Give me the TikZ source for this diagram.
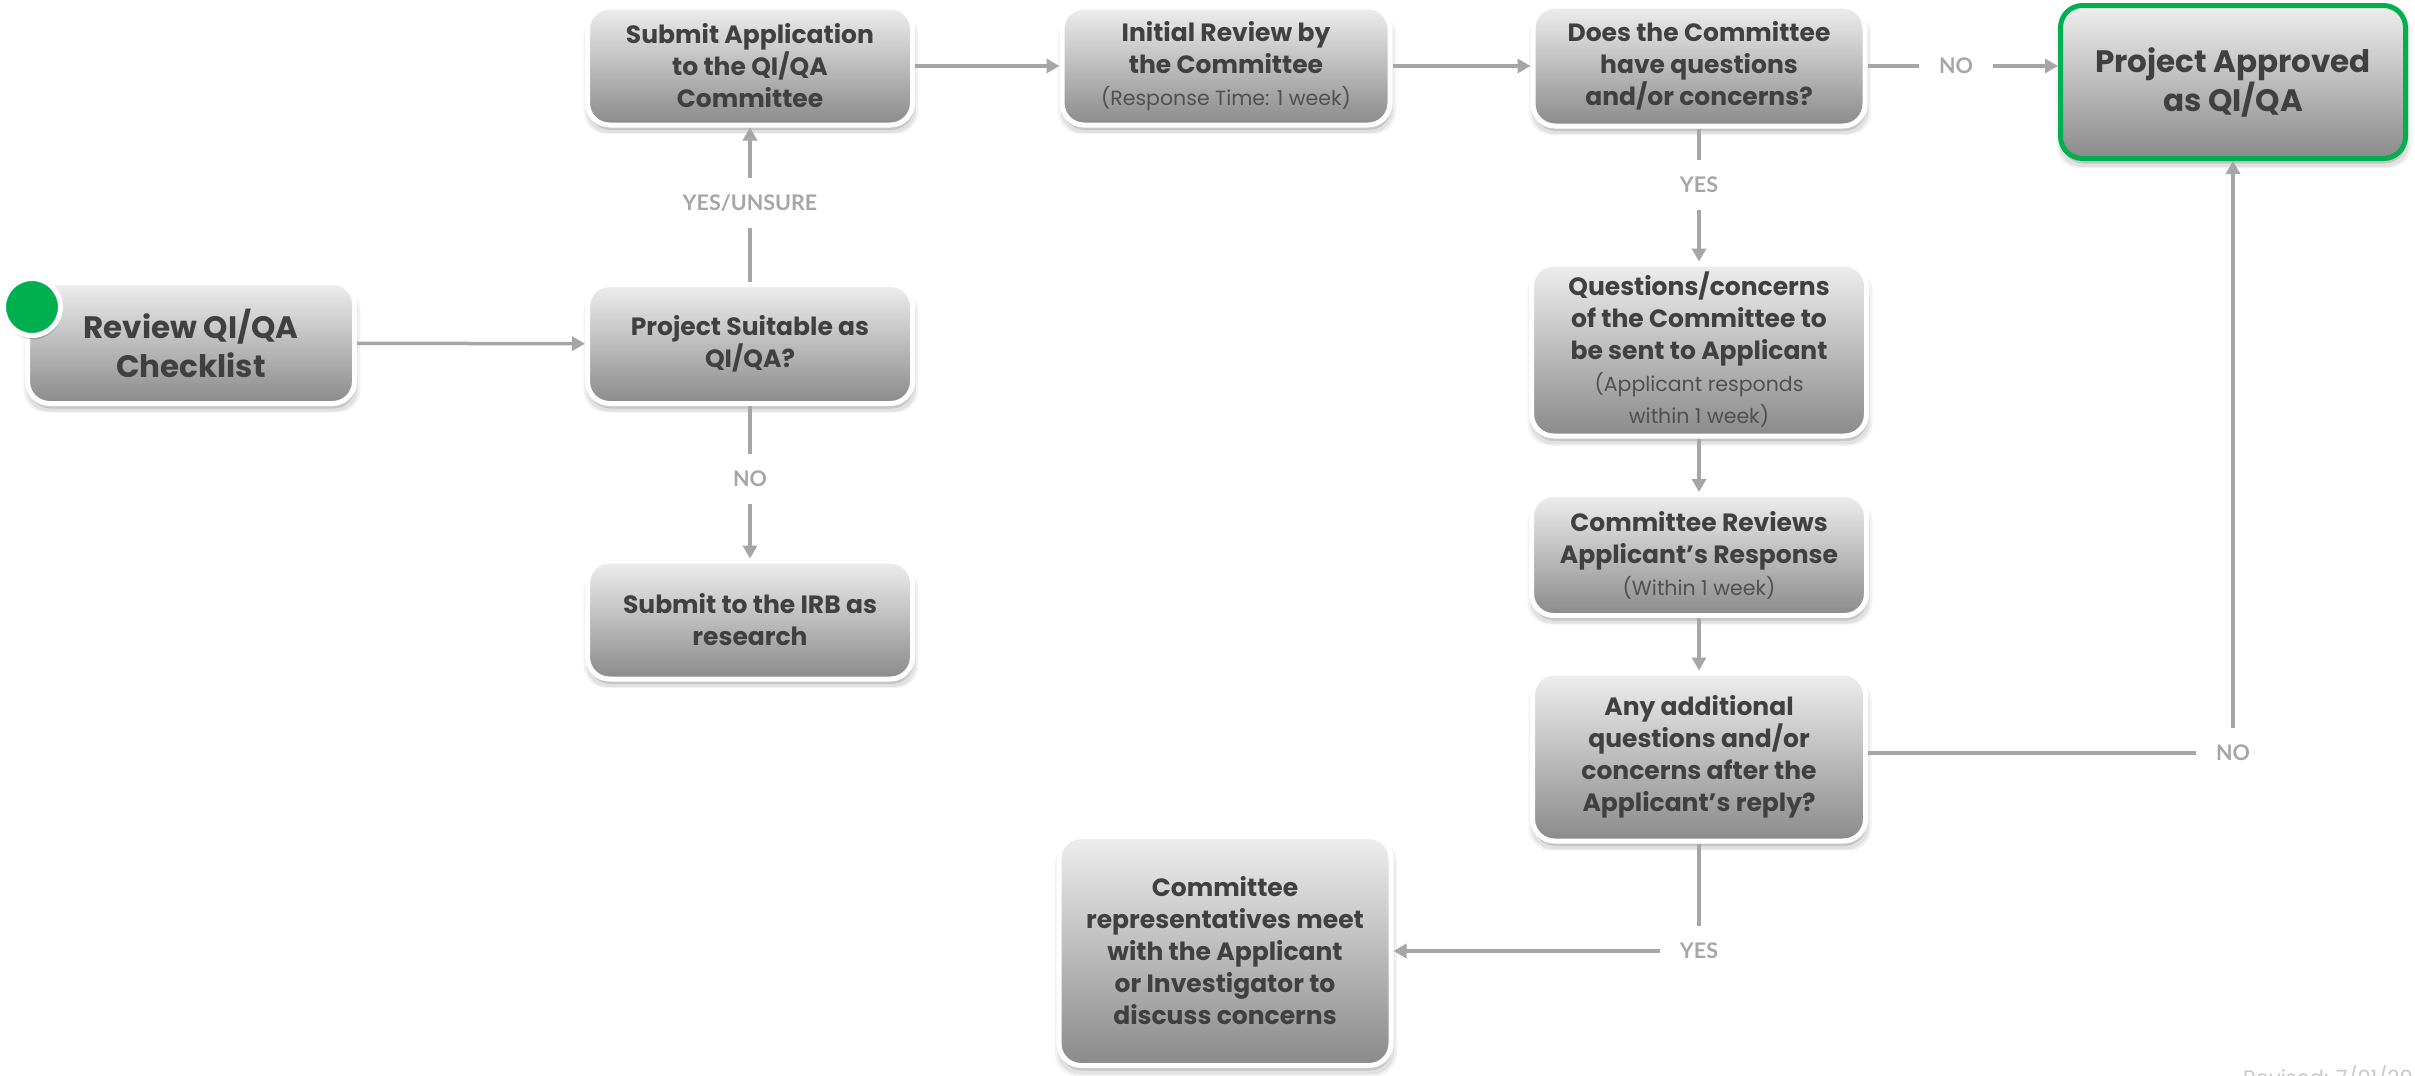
\documentclass[tikz,border=0pt]{standalone}
\usepackage{fontspec}
\setmainfont{Poppins}
\newfontfamily\lblfont{Lato}
\usetikzlibrary{arrows.meta,shadows}
\definecolor{boxtop}{RGB}{238,238,238}
\definecolor{boxbot}{RGB}{138,138,138}
\definecolor{txtc}{RGB}{64,64,64}
\definecolor{smallc}{RGB}{80,80,80}
\definecolor{lblc}{RGB}{166,166,166}
\definecolor{lnc}{RGB}{166,166,166}
\definecolor{grn}{RGB}{0,176,80}
\definecolor{revc}{RGB}{200,200,200}
\newcommand{\bx}{\fontsize{25}{32}\selectfont\bfseries}
\newcommand{\bigbx}{\fontsize{31}{39}\selectfont\bfseries}
\newcommand{\smt}{\fontsize{20.5}{23}\selectfont\mdseries\color{smallc}}
\begin{document}
\begin{tikzpicture}[x=1pt,y=-1pt,
  softshadow/.style={
    drop shadow={shadow xshift=1pt, shadow yshift=-7pt, fill=black, opacity=0.05, shadow scale=1.03},
    drop shadow={shadow xshift=1pt, shadow yshift=-7pt, fill=black, opacity=0.07, shadow scale=1.015},
    drop shadow={shadow xshift=1pt, shadow yshift=-5pt, fill=black, opacity=0.12}},
  box/.style={rounded corners=22pt, draw=white, line width=5pt,
    top color=boxtop, bottom color=boxbot, text=txtc, align=center,
    font=\bx, inner sep=4pt, softshadow},
  sz/.style 2 args={minimum width=#1pt, minimum height=#2pt},
  lbl/.style={font=\lblfont\bfseries\fontsize{21.5}{24}\selectfont, text=lblc,
    inner xsep=20pt, inner ysep=0pt, minimum height=50pt},
  conn/.style={draw=lnc, line width=3.5pt},
  arr/.style={conn, -{Triangle[length=13pt,width=14pt]}}
]
\useasboundingbox (0,0) rectangle (2415,1076);

% boxes
\node[box, sz={327}{121}, font=\bigbx] (review) at (191,343) {Review QI/QA\\Checklist};
\node[box, sz={325}{119}] (suitable) at (750,344) {Project Suitable as\\QI/QA?};
\node[box, sz={325}{118}] (submit) at (750,66) {Submit Application\\to the QI/QA\\Committee};
\node[box, sz={325}{118}] (irb) at (750,620) {Submit to the IRB as\\research};
\node[box, sz={328}{118}] (initial) at (1226,66) {Initial Review by\\the Committee\\\smt (Response Time: 1 week)};
\node[box, sz={332}{120}] (does) at (1699,66) {Does the Committee\\have questions\\and/or concerns?};
\node[box, sz={345}{153}, draw=grn, font=\bigbx] (approved) at (2233,82) {Project Approved\\as QI/QA};
\node[box, sz={335}{172}] (questions) at (1699,350) {Questions/concerns\\of the Committee to\\be sent to Applicant\\\smt (Applicant responds\\\smt within 1 week)};
\node[box, sz={335}{121}] (reviews) at (1699,555) {Committee Reviews\\Applicant’s Response\\\smt (Within 1 week)};
\node[box, sz={333}{168}] (any) at (1699,757) {Any additional\\questions and/or\\concerns after the\\Applicant’s reply?};
\node[box, sz={332}{229}] (reps) at (1225,951) {Committee\\representatives meet\\with the Applicant\\or Investigator to\\discuss concerns};

% start dot
\node[circle, fill=grn, draw=white, line width=5pt, minimum size=57pt, inner sep=0pt,
  drop shadow={shadow xshift=1pt, shadow yshift=-4pt, fill=black, opacity=0.15}] (dot) at (32,307) {};

% labels
\node[lbl] (lyesun) at (750,203) {YES/UNSURE};
\node[lbl] (lno1) at (750,479) {NO};
\node[lbl] (lno2) at (1956,66) {NO};
\node[lbl] (lyes1) at (1699,185) {YES};
\node[lbl] (lno3) at (2233,753) {NO};
\node[lbl] (lyes2) at (1699,951) {YES};

% connectors
\draw[arr] (review) -- (suitable);
\draw[conn] (suitable) -- (lyesun);
\draw[arr] (lyesun) -- (submit);
\draw[conn] (suitable) -- (lno1);
\draw[arr] (lno1) -- (irb);
\draw[arr] (submit) -- (initial);
\draw[arr] (initial) -- (does);
\draw[conn] (does) -- (lno2);
\draw[arr] (lno2) -- (approved.west |- lno2);
\draw[conn] (does) -- (lyes1);
\draw[arr] (lyes1) -- (questions);
\draw[arr] (questions) -- (reviews);
\draw[arr] (reviews) -- (any);
\draw[conn] (any.east |- lno3) -- (lno3);
\draw[arr] (lno3) -- (approved);
\draw[conn] (any) -- (lyes2);
\draw[arr] (lyes2) -- (reps);

% revision note (cut off at page edge as in the reference)
\node[anchor=north west, inner sep=0pt, text=revc, font=\fontsize{21}{24}\selectfont] (rev) at (2243,1066) {Revised: 7/01/20};
\end{tikzpicture}
\end{document}
